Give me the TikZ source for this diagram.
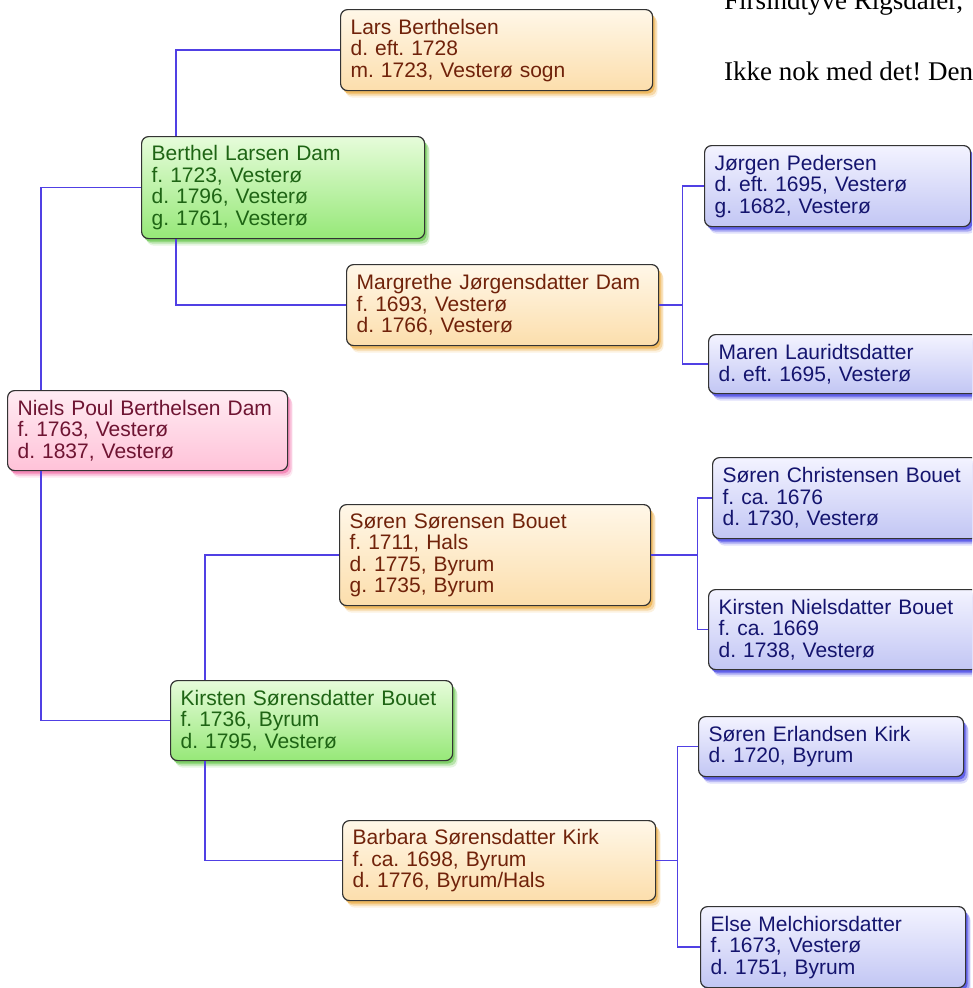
\documentclass[tikz,border=0pt]{standalone}
\usepackage{fontspec}
\setmainfont{Liberation Sans}
\newfontfamily\bookfont{Liberation Serif}
\frenchspacing
\usetikzlibrary{shadows}

\definecolor{linkblue}{RGB}{80,64,228}
\definecolor{orangetop}{RGB}{255,247,232}
\definecolor{orangebot}{RGB}{252,222,172}
\definecolor{orangeglow}{RGB}{232,160,40}
\definecolor{orangetext}{RGB}{112,34,10}
\definecolor{greentop}{RGB}{230,252,218}
\definecolor{greenbot}{RGB}{150,232,120}
\definecolor{greenglow}{RGB}{80,190,50}
\definecolor{greentext}{RGB}{30,100,20}
\definecolor{bluetop}{RGB}{243,243,255}
\definecolor{bluebot}{RGB}{194,198,244}
\definecolor{blueglow}{RGB}{40,40,225}
\definecolor{bluetext}{RGB}{20,20,110}
\definecolor{pinktop}{RGB}{255,236,243}
\definecolor{pinkbot}{RGB}{255,194,216}
\definecolor{pinkglow}{RGB}{240,96,160}
\definecolor{pinktext}{RGB}{110,20,50}

\begin{document}
\begin{tikzpicture}[x=1pt,y=-1pt,
  person/.style={draw=black!80,line width=1.2pt,rounded corners=7pt,
    anchor=north west,align=left,inner xsep=10pt,inner ysep=0pt,
    font=\fontsize{21}{21.5}\selectfont},
  glow/.style={drop shadow={shadow xshift=5pt,shadow yshift=-7pt,fill=#1,opacity=.15},
    drop shadow={shadow xshift=4pt,shadow yshift=-5pt,fill=#1,opacity=.3},
    drop shadow={shadow xshift=2pt,shadow yshift=-3pt,fill=#1,opacity=.55}},
  orangebox/.style={person,top color=orangetop,bottom color=orangebot,text=orangetext,glow=orangeglow},
  greenbox/.style={person,top color=greentop,bottom color=greenbot,text=greentext,glow=greenglow},
  bluebox/.style={person,top color=bluetop,bottom color=bluebot,text=bluetext,glow=blueglow},
  pinkbox/.style={person,top color=pinktop,bottom color=pinkbot,text=pinktext,glow=pinkglow},
  link/.style={draw=linkblue,line width=1.4pt}]
\useasboundingbox (0,0) rectangle (972,988);
\clip (0,0) rectangle (972,988);

% text of the page behind
\node[anchor=base west,inner sep=0pt,font=\bookfont\fontsize{27}{27}\selectfont] (pageone) at (724,9) {Firsindtyve Rigsdaler,};
\node[anchor=base west,inner sep=0pt,font=\bookfont\fontsize{27}{27}\selectfont] (pagetwo) at (724,80) {Ikke nok med det! Den};

% generation 1
\node[pinkbox,text width=260pt,minimum height=80pt] (niels) at (7,390)
  {Niels Poul Berthelsen Dam\\f. 1763, Vesterø\\d. 1837, Vesterø};

% generation 2
\node[greenbox,text width=263pt,minimum height=102pt] (berthel) at (141,136)
  {Berthel Larsen Dam\\f. 1723, Vesterø\\d. 1796, Vesterø\\g. 1761, Vesterø};
\node[greenbox,text width=262pt,minimum height=80pt] (kirsten) at (170,680)
  {Kirsten Sørensdatter Bouet\\f. 1736, Byrum\\d. 1795, Vesterø};

% generation 3
\node[orangebox,text width=292pt,minimum height=81pt] (lars) at (340,9)
  {Lars Berthelsen\\d. eft. 1728\\m. 1723, Vesterø sogn};
\node[orangebox,text width=292pt,minimum height=81pt] (margrethe) at (346,264)
  {Margrethe Jørgensdatter Dam\\f. 1693, Vesterø\\d. 1766, Vesterø};
\node[orangebox,text width=291pt,minimum height=101pt] (sorens) at (339,504)
  {Søren Sørensen Bouet\\f. 1711, Hals\\d. 1775, Byrum\\g. 1735, Byrum};
\node[orangebox,text width=293pt,minimum height=80pt] (barbara) at (342,820)
  {Barbara Sørensdatter Kirk\\f. ca. 1698, Byrum\\d. 1776, Byrum/Hals};

% generation 4
\node[bluebox,text width=246pt,minimum height=81pt] (jorgen) at (704,145)
  {Jørgen Pedersen\\d. eft. 1695, Vesterø\\g. 1682, Vesterø};
\node[bluebox,text width=250pt,minimum height=59pt] (maren) at (708,334)
  {Maren Lauridtsdatter\\d. eft. 1695, Vesterø};
\node[bluebox,text width=246pt,minimum height=81pt] (sorenchr) at (712,457)
  {Søren Christensen Bouet\\f. ca. 1676\\d. 1730, Vesterø};
\node[bluebox,text width=250pt,minimum height=80pt] (kirstenn) at (708,589)
  {Kirsten Nielsdatter Bouet\\f. ca. 1669\\d. 1738, Vesterø};
\node[bluebox,text width=245pt,minimum height=60pt] (sorene) at (698,716)
  {Søren Erlandsen Kirk\\d. 1720, Byrum};
\node[bluebox,text width=245pt,minimum height=81pt] (else) at (700,906)
  {Else Melchiorsdatter\\f. 1673, Vesterø\\d. 1751, Byrum};

% connectors
\draw[link] ([xshift=34pt]niels.north west) |- (berthel.west);
\draw[link] ([xshift=34pt]niels.south west) |- (kirsten.west);
\draw[link] ([xshift=35pt]berthel.north west) |- (lars.west);
\draw[link] ([xshift=35pt]berthel.south west) |- (margrethe.west);
\draw[link] ([xshift=35pt]kirsten.north west) |- (sorens.west);
\draw[link] ([xshift=35pt]kirsten.south west) |- (barbara.west);
\draw[link] (margrethe.east) -- ++(23,0) coordinate (mfork);
\draw[link] (jorgen.west) -| (mfork) |- (maren.west);
\draw[link] (sorens.east) -- ++(46,0) coordinate (sfork);
\draw[link] (sorenchr.west) -| (sfork) |- (kirstenn.west);
\draw[link] (barbara.east) -- ++(21,0) coordinate (bfork);
\draw[link] (sorene.west) -| (bfork) |- (else.west);
\end{tikzpicture}
\end{document}
